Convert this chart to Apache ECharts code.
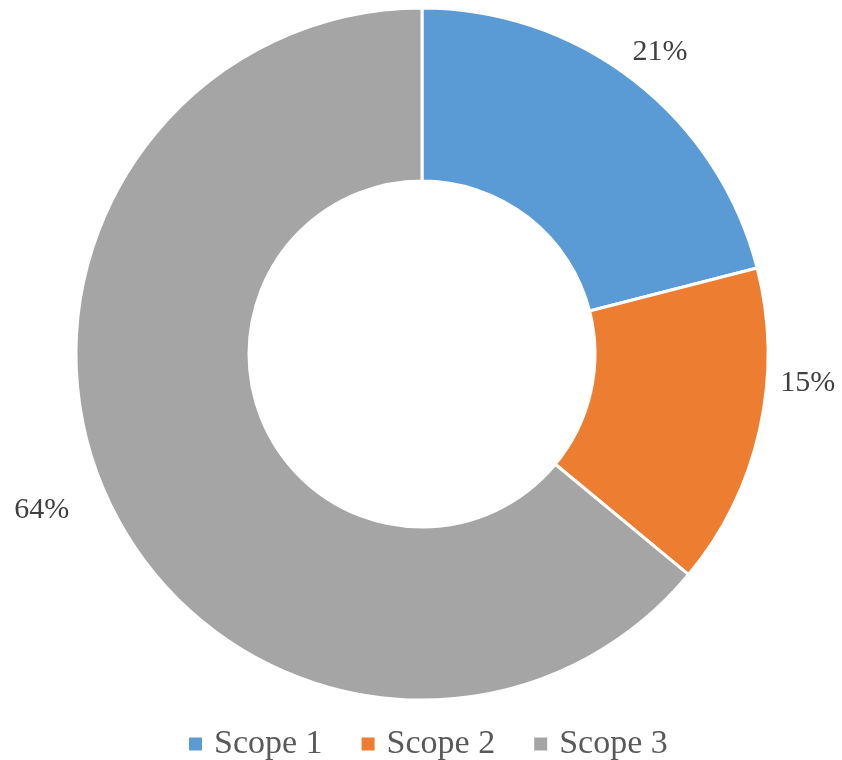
<!DOCTYPE html>
<html>
<head>
<meta charset="utf-8">
<script src="https://cdn.jsdelivr.net/npm/echarts@6/dist/echarts.min.js"></script>
<style>
  html, body { margin: 0; padding: 0; background: #ffffff; }
  #chart { width: 842px; height: 760px; }
</style>
</head>
<body>
<div id="chart"></div>
<script>
// Emission shares by scope (percent)
const scopes = ['Scope 1', 'Scope 2', 'Scope 3'];
const shares = [21, 15, 64];
const sliceColors = ['#5B9BD5', '#ED7D31', '#A5A5A5'];

// Per-label nudges (px) applied on top of the library's outside label placement
const labelNudge = [[-3, 2], [5, -55], [-27, -8]];

const chart = echarts.init(document.getElementById('chart'), null, { renderer: 'canvas' });

chart.setOption({
  animation: false,
  backgroundColor: '#ffffff',
  color: sliceColors,
  legend: {
    bottom: -6,
    left: 182,
    icon: 'rect',
    itemWidth: 15,
    itemHeight: 15,
    itemGap: 37,
    textStyle: {
      fontFamily: '"Liberation Serif", "Times New Roman", serif',
      fontSize: 34,
      color: '#595959',
      padding: [0, 0, 0, 6]
    },
    data: scopes
  },
  series: [{
    type: 'pie',
    center: [422, 354],
    radius: [173, 346],
    startAngle: 90,
    clockwise: true,
    avoidLabelOverlap: false,
    itemStyle: { borderColor: '#ffffff', borderWidth: 3 },
    label: {
      show: true,
      position: 'outside',
      formatter: '{c}%',
      fontFamily: '"Liberation Serif", "Times New Roman", serif',
      fontSize: 30,
      color: '#404040'
    },
    labelLine: { show: false, length: 39, length2: 0 },
    labelLayout: function (p) {
      const n = labelNudge[p.dataIndex] || [0, 0];
      return { align: 'center', verticalAlign: 'middle', dx: n[0], dy: n[1] };
    },
    emphasis: { disabled: true },
    data: scopes.map((name, i) => ({ name: name, value: shares[i] }))
  }]
});
</script>
</body>
</html>
